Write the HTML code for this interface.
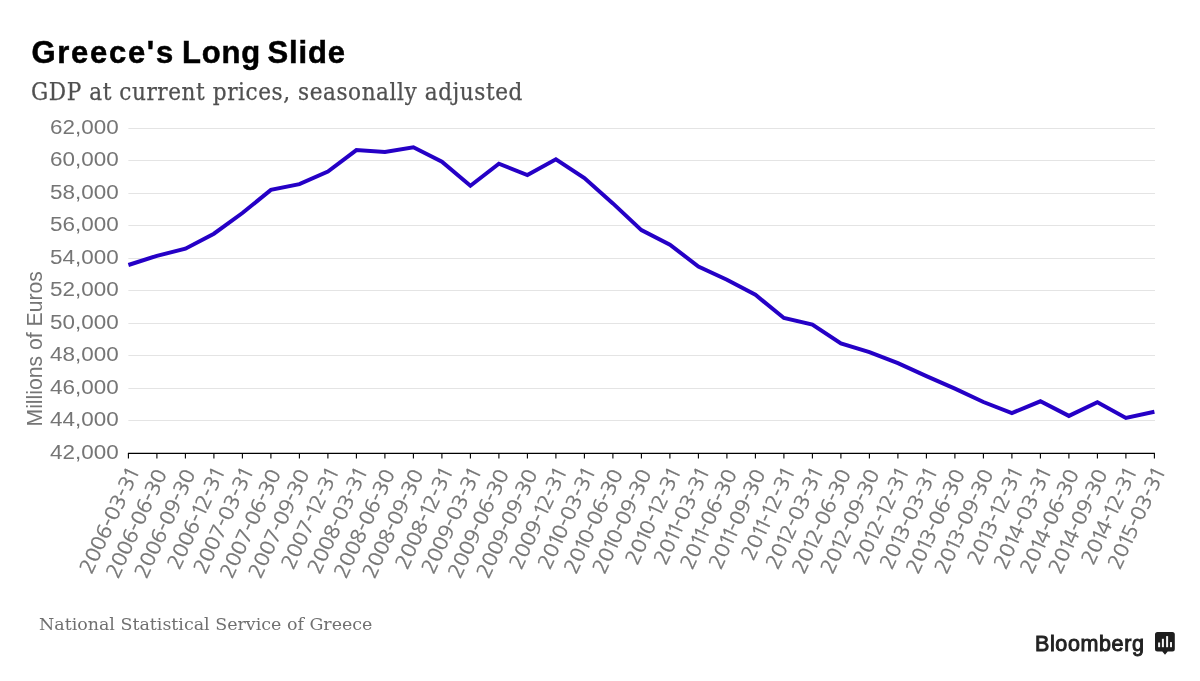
<!DOCTYPE html>
<html><head><meta charset="utf-8"><title>Greece's Long Slide</title>
<style>
html,body{margin:0;padding:0;background:#fff;}
body{width:1200px;height:681px;overflow:hidden;position:relative;}
.t{position:absolute;left:31.5px;top:34.5px;font:bold 31px "Liberation Sans",Arial,sans-serif;color:#000;margin:0;letter-spacing:0.8px;white-space:nowrap;-webkit-text-stroke:0.5px #000;}
.t1{letter-spacing:1.7px;}
.t3{letter-spacing:-1.45px;}
.t2{letter-spacing:-2px;}
.st{position:absolute;left:31px;top:78px;font:24px "DejaVu Serif Condensed","DejaVu Serif",serif;letter-spacing:0.57px;color:#505050;-webkit-text-stroke:0.25px #505050;margin:0;white-space:nowrap;}
.src{position:absolute;left:39px;top:614px;font:17.45px "DejaVu Serif",serif;color:#707070;white-space:nowrap;}
.logo{position:absolute;left:1035px;top:631.5px;font:21.5px "Liberation Sans",Arial,sans-serif;letter-spacing:0.62px;color:#222;-webkit-text-stroke:0.95px #222;white-space:nowrap;}
svg{position:absolute;left:0;top:0;}
.g{stroke:#e4e4e4;stroke-width:1;}
.ax{stroke:#000;stroke-width:1.2;}
.tk{stroke:#000;stroke-width:1.1;}
.yl{font:21px "Liberation Sans",Arial,sans-serif;fill:#757575;text-anchor:end;}
.xl{font:19.7px "NanumGothic","Liberation Sans",Arial,sans-serif;fill:#757575;stroke:#757575;stroke-width:0.3px;text-anchor:end;}
.ytitle{font:21.2px "Liberation Sans",Arial,sans-serif;fill:#757575;text-anchor:middle;}
.ln{fill:none;stroke:#2500c6;stroke-width:4;stroke-linejoin:miter;}
</style></head>
<body>
<h1 class="t"><span class="t1">Greece's</span><span class="t3"> </span>Long<span class="t2"> </span>Slide</h1>
<div class="st">GDP at current prices, seasonally adjusted</div>
<svg width="1200" height="681" viewBox="0 0 1200 681">
<line x1="128.4" x2="1155.0" y1="128.50" y2="128.50" class="g"/>
<line x1="128.4" x2="1155.0" y1="160.50" y2="160.50" class="g"/>
<line x1="128.4" x2="1155.0" y1="193.50" y2="193.50" class="g"/>
<line x1="128.4" x2="1155.0" y1="225.50" y2="225.50" class="g"/>
<line x1="128.4" x2="1155.0" y1="258.50" y2="258.50" class="g"/>
<line x1="128.4" x2="1155.0" y1="290.50" y2="290.50" class="g"/>
<line x1="128.4" x2="1155.0" y1="323.50" y2="323.50" class="g"/>
<line x1="128.4" x2="1155.0" y1="355.50" y2="355.50" class="g"/>
<line x1="128.4" x2="1155.0" y1="388.50" y2="388.50" class="g"/>
<line x1="128.4" x2="1155.0" y1="420.50" y2="420.50" class="g"/>
<text transform="translate(118.8,134.00) scale(1.07,1)" class="yl">62,000</text>
<text transform="translate(118.8,166.00) scale(1.07,1)" class="yl">60,000</text>
<text transform="translate(118.8,199.00) scale(1.07,1)" class="yl">58,000</text>
<text transform="translate(118.8,231.00) scale(1.07,1)" class="yl">56,000</text>
<text transform="translate(118.8,264.00) scale(1.07,1)" class="yl">54,000</text>
<text transform="translate(118.8,296.00) scale(1.07,1)" class="yl">52,000</text>
<text transform="translate(118.8,329.00) scale(1.07,1)" class="yl">50,000</text>
<text transform="translate(118.8,361.00) scale(1.07,1)" class="yl">48,000</text>
<text transform="translate(118.8,394.00) scale(1.07,1)" class="yl">46,000</text>
<text transform="translate(118.8,426.00) scale(1.07,1)" class="yl">44,000</text>
<text transform="translate(118.8,459.00) scale(1.07,1)" class="yl">42,000</text>
<line x1="127.9" x2="1154.9" y1="453.40" y2="453.40" class="ax"/>
<line x1="128.40" x2="128.40" y1="453.40" y2="458.60" class="tk"/>
<line x1="156.90" x2="156.90" y1="453.40" y2="458.60" class="tk"/>
<line x1="185.40" x2="185.40" y1="453.40" y2="458.60" class="tk"/>
<line x1="213.90" x2="213.90" y1="453.40" y2="458.60" class="tk"/>
<line x1="242.40" x2="242.40" y1="453.40" y2="458.60" class="tk"/>
<line x1="270.90" x2="270.90" y1="453.40" y2="458.60" class="tk"/>
<line x1="299.40" x2="299.40" y1="453.40" y2="458.60" class="tk"/>
<line x1="327.90" x2="327.90" y1="453.40" y2="458.60" class="tk"/>
<line x1="356.40" x2="356.40" y1="453.40" y2="458.60" class="tk"/>
<line x1="384.90" x2="384.90" y1="453.40" y2="458.60" class="tk"/>
<line x1="413.40" x2="413.40" y1="453.40" y2="458.60" class="tk"/>
<line x1="441.90" x2="441.90" y1="453.40" y2="458.60" class="tk"/>
<line x1="470.40" x2="470.40" y1="453.40" y2="458.60" class="tk"/>
<line x1="498.90" x2="498.90" y1="453.40" y2="458.60" class="tk"/>
<line x1="527.40" x2="527.40" y1="453.40" y2="458.60" class="tk"/>
<line x1="555.90" x2="555.90" y1="453.40" y2="458.60" class="tk"/>
<line x1="584.40" x2="584.40" y1="453.40" y2="458.60" class="tk"/>
<line x1="612.90" x2="612.90" y1="453.40" y2="458.60" class="tk"/>
<line x1="641.40" x2="641.40" y1="453.40" y2="458.60" class="tk"/>
<line x1="669.90" x2="669.90" y1="453.40" y2="458.60" class="tk"/>
<line x1="698.40" x2="698.40" y1="453.40" y2="458.60" class="tk"/>
<line x1="726.90" x2="726.90" y1="453.40" y2="458.60" class="tk"/>
<line x1="755.40" x2="755.40" y1="453.40" y2="458.60" class="tk"/>
<line x1="783.90" x2="783.90" y1="453.40" y2="458.60" class="tk"/>
<line x1="812.40" x2="812.40" y1="453.40" y2="458.60" class="tk"/>
<line x1="840.90" x2="840.90" y1="453.40" y2="458.60" class="tk"/>
<line x1="869.40" x2="869.40" y1="453.40" y2="458.60" class="tk"/>
<line x1="897.90" x2="897.90" y1="453.40" y2="458.60" class="tk"/>
<line x1="926.40" x2="926.40" y1="453.40" y2="458.60" class="tk"/>
<line x1="954.90" x2="954.90" y1="453.40" y2="458.60" class="tk"/>
<line x1="983.40" x2="983.40" y1="453.40" y2="458.60" class="tk"/>
<line x1="1011.90" x2="1011.90" y1="453.40" y2="458.60" class="tk"/>
<line x1="1040.40" x2="1040.40" y1="453.40" y2="458.60" class="tk"/>
<line x1="1068.90" x2="1068.90" y1="453.40" y2="458.60" class="tk"/>
<line x1="1097.40" x2="1097.40" y1="453.40" y2="458.60" class="tk"/>
<line x1="1125.90" x2="1125.90" y1="453.40" y2="458.60" class="tk"/>
<line x1="1154.40" x2="1154.40" y1="453.40" y2="458.60" class="tk"/>
<text transform="translate(138.90,473.5) rotate(-65) scale(1.065,1) translate(3.34,0)" dx="0 0 0 0 0 0 0 0 0 -1.34" class="xl">2006-03-31</text>
<text transform="translate(167.40,473.5) rotate(-65) scale(1.065,1) translate(0,0)" dx="0 0 0 0 0 0 0 0 0 0" class="xl">2006-06-30</text>
<text transform="translate(195.90,473.5) rotate(-65) scale(1.065,1) translate(0,0)" dx="0 0 0 0 0 0 0 0 0 0" class="xl">2006-09-30</text>
<text transform="translate(224.40,473.5) rotate(-65) scale(1.065,1) translate(3.34,0)" dx="0 0 0 0 0 -1.34 -3.34 0 0 -1.34" class="xl">2006-12-31</text>
<text transform="translate(252.90,473.5) rotate(-65) scale(1.065,1) translate(3.34,0)" dx="0 0 0 0 0 0 0 0 0 -1.34" class="xl">2007-03-31</text>
<text transform="translate(281.40,473.5) rotate(-65) scale(1.065,1) translate(0,0)" dx="0 0 0 0 0 0 0 0 0 0" class="xl">2007-06-30</text>
<text transform="translate(309.90,473.5) rotate(-65) scale(1.065,1) translate(0,0)" dx="0 0 0 0 0 0 0 0 0 0" class="xl">2007-09-30</text>
<text transform="translate(338.40,473.5) rotate(-65) scale(1.065,1) translate(3.34,0)" dx="0 0 0 0 0 -1.34 -3.34 0 0 -1.34" class="xl">2007-12-31</text>
<text transform="translate(366.90,473.5) rotate(-65) scale(1.065,1) translate(3.34,0)" dx="0 0 0 0 0 0 0 0 0 -1.34" class="xl">2008-03-31</text>
<text transform="translate(395.40,473.5) rotate(-65) scale(1.065,1) translate(0,0)" dx="0 0 0 0 0 0 0 0 0 0" class="xl">2008-06-30</text>
<text transform="translate(423.90,473.5) rotate(-65) scale(1.065,1) translate(0,0)" dx="0 0 0 0 0 0 0 0 0 0" class="xl">2008-09-30</text>
<text transform="translate(452.40,473.5) rotate(-65) scale(1.065,1) translate(3.34,0)" dx="0 0 0 0 0 -1.34 -3.34 0 0 -1.34" class="xl">2008-12-31</text>
<text transform="translate(480.90,473.5) rotate(-65) scale(1.065,1) translate(3.34,0)" dx="0 0 0 0 0 0 0 0 0 -1.34" class="xl">2009-03-31</text>
<text transform="translate(509.40,473.5) rotate(-65) scale(1.065,1) translate(0,0)" dx="0 0 0 0 0 0 0 0 0 0" class="xl">2009-06-30</text>
<text transform="translate(537.90,473.5) rotate(-65) scale(1.065,1) translate(0,0)" dx="0 0 0 0 0 0 0 0 0 0" class="xl">2009-09-30</text>
<text transform="translate(566.40,473.5) rotate(-65) scale(1.065,1) translate(3.34,0)" dx="0 0 0 0 0 -1.34 -3.34 0 0 -1.34" class="xl">2009-12-31</text>
<text transform="translate(594.90,473.5) rotate(-65) scale(1.065,1) translate(3.34,0)" dx="0 0 -1.34 -3.34 0 0 0 0 0 -1.34" class="xl">2010-03-31</text>
<text transform="translate(623.40,473.5) rotate(-65) scale(1.065,1) translate(0,0)" dx="0 0 -1.34 -3.34 0 0 0 0 0 0" class="xl">2010-06-30</text>
<text transform="translate(651.90,473.5) rotate(-65) scale(1.065,1) translate(0,0)" dx="0 0 -1.34 -3.34 0 0 0 0 0 0" class="xl">2010-09-30</text>
<text transform="translate(680.40,473.5) rotate(-65) scale(1.065,1) translate(3.34,0)" dx="0 0 -1.34 -3.34 0 -1.34 -3.34 0 0 -1.34" class="xl">2010-12-31</text>
<text transform="translate(708.90,473.5) rotate(-65) scale(1.065,1) translate(3.34,0)" dx="0 0 -1.34 -4.68 -3.34 0 0 0 0 -1.34" class="xl">2011-03-31</text>
<text transform="translate(737.40,473.5) rotate(-65) scale(1.065,1) translate(0,0)" dx="0 0 -1.34 -4.68 -3.34 0 0 0 0 0" class="xl">2011-06-30</text>
<text transform="translate(765.90,473.5) rotate(-65) scale(1.065,1) translate(0,0)" dx="0 0 -1.34 -4.68 -3.34 0 0 0 0 0" class="xl">2011-09-30</text>
<text transform="translate(794.40,473.5) rotate(-65) scale(1.065,1) translate(3.34,0)" dx="0 0 -1.34 -4.68 -3.34 -1.34 -3.34 0 0 -1.34" class="xl">2011-12-31</text>
<text transform="translate(822.90,473.5) rotate(-65) scale(1.065,1) translate(3.34,0)" dx="0 0 -1.34 -3.34 0 0 0 0 0 -1.34" class="xl">2012-03-31</text>
<text transform="translate(851.40,473.5) rotate(-65) scale(1.065,1) translate(0,0)" dx="0 0 -1.34 -3.34 0 0 0 0 0 0" class="xl">2012-06-30</text>
<text transform="translate(879.90,473.5) rotate(-65) scale(1.065,1) translate(0,0)" dx="0 0 -1.34 -3.34 0 0 0 0 0 0" class="xl">2012-09-30</text>
<text transform="translate(908.40,473.5) rotate(-65) scale(1.065,1) translate(3.34,0)" dx="0 0 -1.34 -3.34 0 -1.34 -3.34 0 0 -1.34" class="xl">2012-12-31</text>
<text transform="translate(936.90,473.5) rotate(-65) scale(1.065,1) translate(3.34,0)" dx="0 0 -1.34 -3.34 0 0 0 0 0 -1.34" class="xl">2013-03-31</text>
<text transform="translate(965.40,473.5) rotate(-65) scale(1.065,1) translate(0,0)" dx="0 0 -1.34 -3.34 0 0 0 0 0 0" class="xl">2013-06-30</text>
<text transform="translate(993.90,473.5) rotate(-65) scale(1.065,1) translate(0,0)" dx="0 0 -1.34 -3.34 0 0 0 0 0 0" class="xl">2013-09-30</text>
<text transform="translate(1022.40,473.5) rotate(-65) scale(1.065,1) translate(3.34,0)" dx="0 0 -1.34 -3.34 0 -1.34 -3.34 0 0 -1.34" class="xl">2013-12-31</text>
<text transform="translate(1050.90,473.5) rotate(-65) scale(1.065,1) translate(3.34,0)" dx="0 0 -1.34 -3.34 0 0 0 0 0 -1.34" class="xl">2014-03-31</text>
<text transform="translate(1079.40,473.5) rotate(-65) scale(1.065,1) translate(0,0)" dx="0 0 -1.34 -3.34 0 0 0 0 0 0" class="xl">2014-06-30</text>
<text transform="translate(1107.90,473.5) rotate(-65) scale(1.065,1) translate(0,0)" dx="0 0 -1.34 -3.34 0 0 0 0 0 0" class="xl">2014-09-30</text>
<text transform="translate(1136.40,473.5) rotate(-65) scale(1.065,1) translate(3.34,0)" dx="0 0 -1.34 -3.34 0 -1.34 -3.34 0 0 -1.34" class="xl">2014-12-31</text>
<text transform="translate(1164.90,473.5) rotate(-65) scale(1.065,1) translate(3.34,0)" dx="0 0 -1.34 -3.34 0 0 0 0 0 -1.34" class="xl">2015-03-31</text>
<polyline points="128.40,265.00 156.90,255.80 185.40,248.70 213.90,233.70 242.40,213.00 270.90,189.90 299.40,184.20 327.90,171.50 356.40,150.10 384.90,152.00 413.40,147.30 441.90,161.70 470.40,185.80 498.90,163.70 527.40,175.10 555.90,159.30 584.40,178.10 612.90,203.40 641.40,230.10 669.90,244.70 698.40,266.50 726.90,279.70 755.40,294.80 783.90,318.00 812.40,324.50 840.90,343.50 869.40,352.10 897.90,363.20 926.40,376.10 954.90,388.60 983.40,402.00 1011.90,413.00 1040.40,401.30 1068.90,415.90 1097.40,402.30 1125.90,417.90 1154.40,411.70" class="ln"/>
<text transform="translate(42,348.8) rotate(-90)" class="ytitle">Millions of Euros</text>
<g transform="translate(1155,632)">
<path d="M2.5,0 H17.3 a2.5,2.5 0 0 1 2.5,2.5 V17.1 a2.5,2.5 0 0 1 -2.5,2.5 H12.7 L10,22.8 L7.3,19.6 H2.5 a2.5,2.5 0 0 1 -2.5,-2.5 V2.5 a2.5,2.5 0 0 1 2.5,-2.5 Z" fill="#1e1e1e"/>
<rect x="3.1" y="10.5" width="2" height="4.7" fill="#f4f4f4"/>
<rect x="6.9" y="6.8" width="2" height="8.4" fill="#f4f4f4"/>
<rect x="11.1" y="4.1" width="2" height="11.1" fill="#f4f4f4"/>
<rect x="15" y="10.1" width="2" height="5.1" fill="#f4f4f4"/>
</g>
</svg>
<div class="src">National Statistical Service of Greece</div>
<div class="logo">Bloomberg</div>
</body></html>
